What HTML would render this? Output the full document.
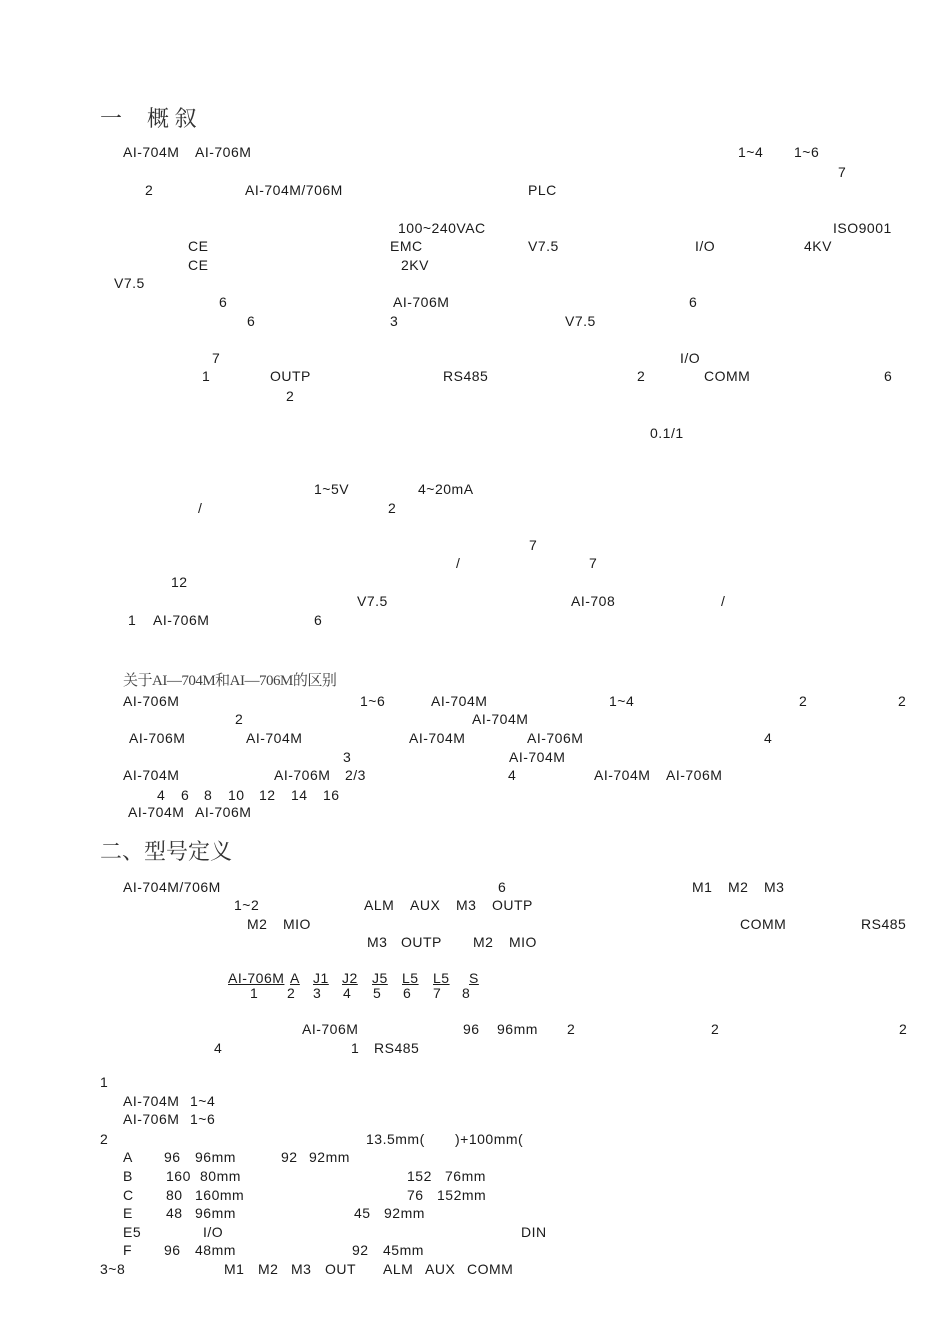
<!DOCTYPE html>
<html><head><meta charset="utf-8"><style>
html,body{margin:0;padding:0;background:#fff}
body{width:950px;height:1343px;position:relative;overflow:hidden;font-family:"Liberation Sans",Arial,sans-serif;font-size:14px;color:#1a1a1a;letter-spacing:0.5px}
span{position:absolute;white-space:pre;line-height:15px;margin-top:0px}
.h{font-family:"Noto Serif CJK SC","Liberation Serif",serif;font-size:22px;line-height:24px;color:#333;letter-spacing:0}
.s{font-family:"Liberation Serif","Noto Serif CJK SC",serif;font-size:15px;line-height:18px;color:#444;letter-spacing:-0.5px}
.u{text-decoration:underline}
</style></head><body>
<span class="h" style="left:100px;top:106px">一</span><span class="h" style="left:147px;top:106px">概 叙</span>
<span style="left:123px;top:145px">AI-704M</span><span style="left:195px;top:145px">AI-706M</span><span style="left:738px;top:145px">1~4</span><span style="left:794px;top:145px">1~6</span>
<span style="left:838px;top:165px">7</span>
<span style="left:145px;top:183px">2</span><span style="left:245px;top:183px">AI-704M/706M</span><span style="left:528px;top:183px">PLC</span>
<span style="left:398px;top:221px">100~240VAC</span><span style="left:833px;top:221px">ISO9001</span>
<span style="left:188px;top:239px">CE</span><span style="left:390px;top:239px">EMC</span><span style="left:528px;top:239px">V7.5</span><span style="left:695px;top:239px">I/O</span><span style="left:804px;top:239px">4KV</span>
<span style="left:188px;top:258px">CE</span><span style="left:401px;top:258px">2KV</span>
<span style="left:114px;top:276px">V7.5</span>
<span style="left:219px;top:295px">6</span><span style="left:393px;top:295px">AI-706M</span><span style="left:689px;top:295px">6</span>
<span style="left:247px;top:314px">6</span><span style="left:390px;top:314px">3</span><span style="left:565px;top:314px">V7.5</span>
<span style="left:212px;top:351px">7</span><span style="left:680px;top:351px">I/O</span>
<span style="left:202px;top:369px">1</span><span style="left:270px;top:369px">OUTP</span><span style="left:443px;top:369px">RS485</span><span style="left:637px;top:369px">2</span><span style="left:704px;top:369px">COMM</span><span style="left:884px;top:369px">6</span>
<span style="left:286px;top:389px">2</span>
<span style="left:650px;top:426px">0.1/1</span>
<span style="left:314px;top:482px">1~5V</span><span style="left:418px;top:482px">4~20mA</span>
<span style="left:198px;top:501px">/</span><span style="left:388px;top:501px">2</span>
<span style="left:529px;top:538px">7</span>
<span style="left:456px;top:556px">/</span><span style="left:589px;top:556px">7</span>
<span style="left:171px;top:575px">12</span>
<span style="left:357px;top:594px">V7.5</span><span style="left:571px;top:594px">AI-708</span><span style="left:721px;top:594px">/</span>
<span style="left:128px;top:613px">1</span><span style="left:153px;top:613px">AI-706M</span><span style="left:314px;top:613px">6</span>
<span class="s" style="left:123px;top:672px">关于AI—704M和AI—706M的区别</span>
<span style="left:123px;top:694px">AI-706M</span><span style="left:360px;top:694px">1~6</span><span style="left:431px;top:694px">AI-704M</span><span style="left:609px;top:694px">1~4</span><span style="left:799px;top:694px">2</span><span style="left:898px;top:694px">2</span>
<span style="left:235px;top:712px">2</span><span style="left:472px;top:712px">AI-704M</span>
<span style="left:129px;top:731px">AI-706M</span><span style="left:246px;top:731px">AI-704M</span><span style="left:409px;top:731px">AI-704M</span><span style="left:527px;top:731px">AI-706M</span><span style="left:764px;top:731px">4</span>
<span style="left:343px;top:750px">3</span><span style="left:509px;top:750px">AI-704M</span>
<span style="left:123px;top:768px">AI-704M</span><span style="left:274px;top:768px">AI-706M</span><span style="left:345px;top:768px">2/3</span><span style="left:508px;top:768px">4</span><span style="left:594px;top:768px">AI-704M</span><span style="left:666px;top:768px">AI-706M</span>
<span style="left:157px;top:788px">4</span><span style="left:181px;top:788px">6</span><span style="left:204px;top:788px">8</span><span style="left:228px;top:788px">10</span><span style="left:259px;top:788px">12</span><span style="left:291px;top:788px">14</span><span style="left:323px;top:788px">16</span>
<span style="left:128px;top:805px">AI-704M</span><span style="left:195px;top:805px">AI-706M</span>
<span class="h" style="left:100px;top:839px;font-size:22px">二、型号定义</span>
<span style="left:123px;top:880px">AI-704M/706M</span><span style="left:498px;top:880px">6</span><span style="left:692px;top:880px">M1</span><span style="left:728px;top:880px">M2</span><span style="left:764px;top:880px">M3</span>
<span style="left:234px;top:898px">1~2</span><span style="left:364px;top:898px">ALM</span><span style="left:410px;top:898px">AUX</span><span style="left:456px;top:898px">M3</span><span style="left:492px;top:898px">OUTP</span>
<span style="left:247px;top:917px">M2</span><span style="left:283px;top:917px">MIO</span><span style="left:740px;top:917px">COMM</span><span style="left:861px;top:917px">RS485</span>
<span style="left:367px;top:935px">M3</span><span style="left:401px;top:935px">OUTP</span><span style="left:473px;top:935px">M2</span><span style="left:509px;top:935px">MIO</span>
<span class="u" style="left:228px;top:971px">AI-706M</span><span class="u" style="left:290px;top:971px">A</span><span class="u" style="left:313px;top:971px">J1</span><span class="u" style="left:342px;top:971px">J2</span><span class="u" style="left:372px;top:971px">J5</span><span class="u" style="left:402px;top:971px">L5</span><span class="u" style="left:433px;top:971px">L5</span><span class="u" style="left:469px;top:971px">S</span>
<span style="left:250px;top:986px">1</span><span style="left:287px;top:986px">2</span><span style="left:313px;top:986px">3</span><span style="left:343px;top:986px">4</span><span style="left:373px;top:986px">5</span><span style="left:403px;top:986px">6</span><span style="left:433px;top:986px">7</span><span style="left:462px;top:986px">8</span>
<span style="left:302px;top:1022px">AI-706M</span><span style="left:463px;top:1022px">96</span><span style="left:497px;top:1022px">96mm</span><span style="left:567px;top:1022px">2</span><span style="left:711px;top:1022px">2</span><span style="left:899px;top:1022px">2</span>
<span style="left:214px;top:1041px">4</span><span style="left:351px;top:1041px">1</span><span style="left:374px;top:1041px">RS485</span>
<span style="left:100px;top:1075px">1</span>
<span style="left:123px;top:1094px">AI-704M</span><span style="left:190px;top:1094px">1~4</span>
<span style="left:123px;top:1112px">AI-706M</span><span style="left:190px;top:1112px">1~6</span>
<span style="left:100px;top:1132px">2</span><span style="left:366px;top:1132px">13.5mm(</span><span style="left:455px;top:1132px">)+100mm(</span>
<span style="left:123px;top:1150px">A</span><span style="left:164px;top:1150px">96</span><span style="left:195px;top:1150px">96mm</span><span style="left:281px;top:1150px">92</span><span style="left:309px;top:1150px">92mm</span>
<span style="left:123px;top:1169px">B</span><span style="left:166px;top:1169px">160</span><span style="left:200px;top:1169px">80mm</span><span style="left:407px;top:1169px">152</span><span style="left:445px;top:1169px">76mm</span>
<span style="left:123px;top:1188px">C</span><span style="left:166px;top:1188px">80</span><span style="left:195px;top:1188px">160mm</span><span style="left:407px;top:1188px">76</span><span style="left:437px;top:1188px">152mm</span>
<span style="left:123px;top:1206px">E</span><span style="left:166px;top:1206px">48</span><span style="left:195px;top:1206px">96mm</span><span style="left:354px;top:1206px">45</span><span style="left:384px;top:1206px">92mm</span>
<span style="left:123px;top:1225px">E5</span><span style="left:203px;top:1225px">I/O</span><span style="left:521px;top:1225px">DIN</span>
<span style="left:123px;top:1243px">F</span><span style="left:164px;top:1243px">96</span><span style="left:195px;top:1243px">48mm</span><span style="left:352px;top:1243px">92</span><span style="left:383px;top:1243px">45mm</span>
<span style="left:100px;top:1262px">3~8</span><span style="left:224px;top:1262px">M1</span><span style="left:258px;top:1262px">M2</span><span style="left:291px;top:1262px">M3</span><span style="left:325px;top:1262px">OUT</span><span style="left:383px;top:1262px">ALM</span><span style="left:425px;top:1262px">AUX</span><span style="left:467px;top:1262px">COMM</span>
</body></html>
